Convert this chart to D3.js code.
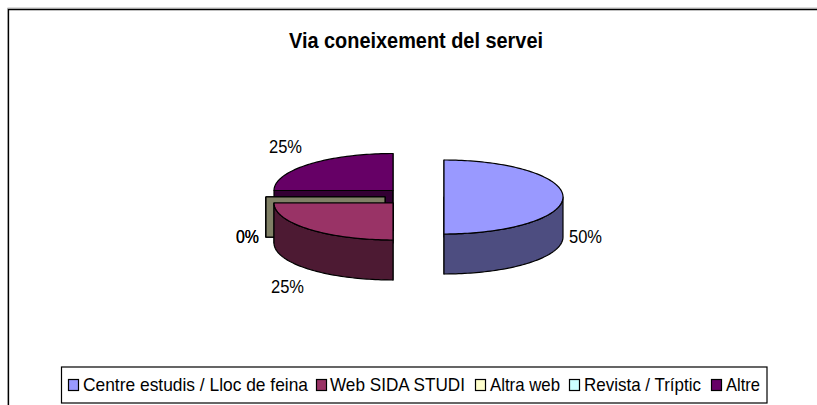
<!DOCTYPE html>
<html><head><meta charset="utf-8">
<script src="https://cdn.jsdelivr.net/npm/d3@7"></script>
<style>html,body{margin:0;background:#fff}svg{display:block}text{font-family:"Liberation Sans",Arial,sans-serif;fill:#000}</style>
</head><body><svg id="c" width="817" height="405"></svg>
<script>
const title = "Via coneixement del servei";
const categories = ["Centre estudis / Lloc de feina","Web SIDA STUDI","Altra web","Revista / Tríptic","Altre"];
const values = [50,25,0,0,25];
const labels = ["50%","25%","0%","0%","25%"];
const topColors = ["#9999FF","#993366","#FFFFCC","#CCFFFF","#660066"];

// layout
const rx=119, ry=37, depth=40;
const centers=[[444,197],[393,203],[385,197],[385,197],[393,190.5]];
const labelPos=[[569,243,33],[271,293,33],[236,243,23],[236,243,23],[269,153,33]];
const legendSwatchX=[68,316,475,569,711];
const legendTextX=[83,330,490,584,726];
const legendTextW=[225,135,70,117,34];
const drawOrder=[4,3,2,0,1];

const svg=d3.select("#c");
svg.append("path").attr("d","M817,8H7.5V405").attr("fill","none").attr("stroke","#bbb");
svg.append("path").attr("d","M817,9.5H8.5V405").attr("fill","none").attr("stroke","#000").attr("stroke-width",1.3);
svg.append("text").attr("x",289).attr("y",47.5).attr("font-size",22).attr("font-weight","bold")
  .attr("textLength",254).attr("lengthAdjust","spacingAndGlyphs").text(title);

const pie=d3.pie().sort(null).value(d=>d);
const arcs=pie(values);
const line=d3.line();
const dark=c=>{const r=d3.rgb(c);return d3.rgb(r.r/2,r.g/2,r.b/2).formatHex();};
const pt=(c,a,dy=0)=>[c[0]+rx*Math.sin(a),c[1]-ry*Math.cos(a)+dy];
const arcPts=(c,a0,a1,dy=0)=>{const n=Math.max(1,Math.ceil(Math.abs(a1-a0)*40));return d3.range(n+1).map(i=>pt(c,a0+(a1-a0)*i/n,dy));};

drawOrder.forEach(i=>{
  const a=arcs[i],c=centers[i],g=svg.append("g").attr("stroke","#000").attr("stroke-width",1.2).attr("stroke-linejoin","round");
  const d=dark(topColors[i]);
  const wall=(p)=>g.append("path").attr("d",line([c,p,[p[0],p[1]+depth],[c[0],c[1]+depth]])+"Z").attr("fill",d);
  wall(pt(c,a.startAngle));
  wall(pt(c,a.endAngle));
  const s=Math.max(a.startAngle,Math.PI/2),e=Math.min(a.endAngle,3*Math.PI/2);
  if(e>s){
    const f=arcPts(c,s,e),b=arcPts(c,e,s,depth);
    g.append("path").attr("d",line(f.concat(b))+"Z").attr("fill",d);
  }
  if(a.endAngle>a.startAngle){
    g.append("path").attr("d",line([c].concat(arcPts(c,a.startAngle,a.endAngle)))+"Z").attr("fill",topColors[i]);
  }
});

labels.forEach((t,i)=>{
  svg.append("text").attr("x",labelPos[i][0]).attr("y",labelPos[i][1]).attr("font-size",18.5)
    .attr("textLength",labelPos[i][2]).attr("lengthAdjust","spacingAndGlyphs").text(t);
});

svg.append("rect").attr("x",61.5).attr("y",367).attr("width",705.5).attr("height",36).attr("fill","#fff").attr("stroke","#000").attr("stroke-width",1.2);
categories.forEach((t,i)=>{
  svg.append("rect").attr("x",legendSwatchX[i]+.5).attr("y",379.5).attr("width",10).attr("height",11).attr("fill",topColors[i]).attr("stroke","#000").attr("stroke-width",1.2);
  svg.append("text").attr("x",legendTextX[i]).attr("y",391).attr("font-size",19)
    .attr("textLength",legendTextW[i]).attr("lengthAdjust","spacingAndGlyphs").text(t);
});
</script></body></html>
